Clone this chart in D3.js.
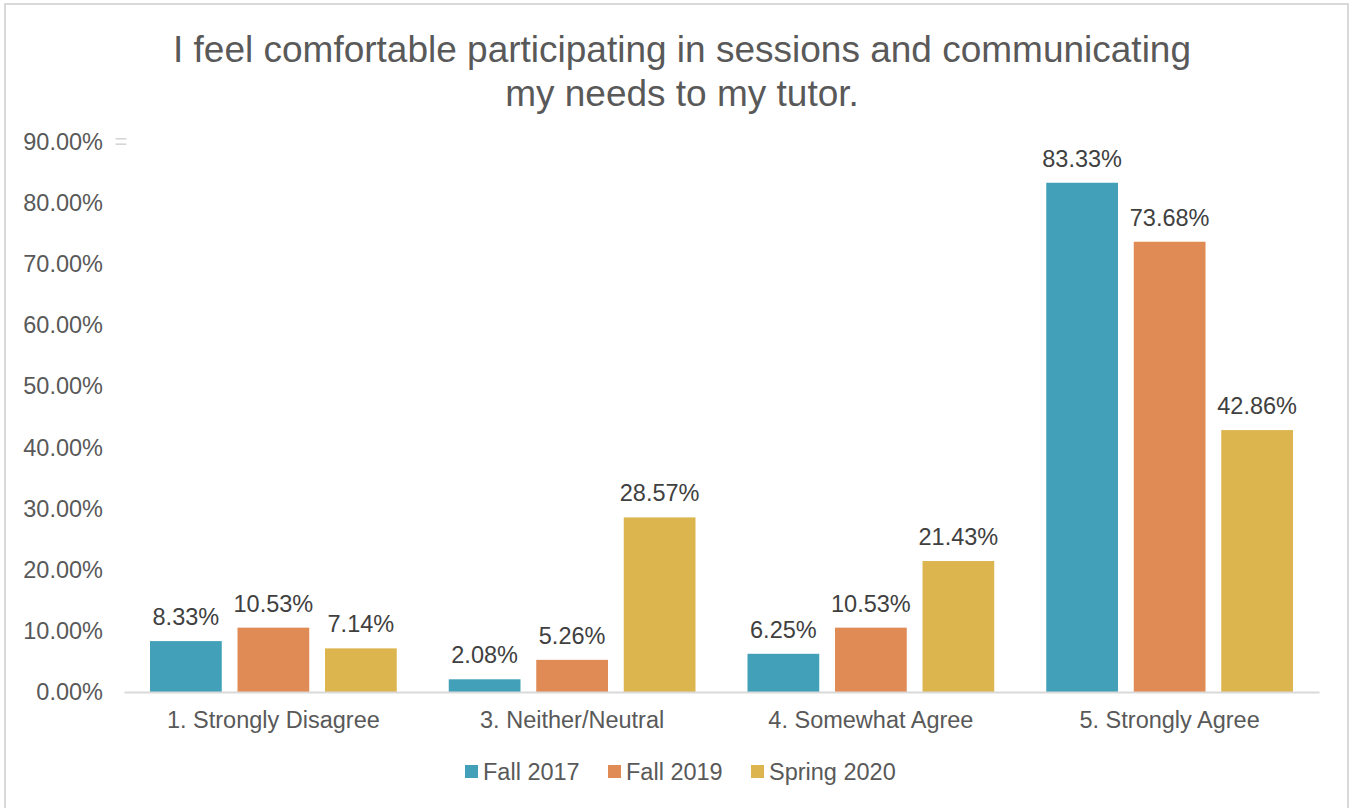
<!DOCTYPE html>
<html lang="en">
<head>
    <meta charset="utf-8">
    <title>Comfort participating</title>
    <script src="https://d3js.org/d3.v7.min.js" charset="utf-8"></script>
    <style type="text/css">
        body {
            margin: 0;
            background: #fff;
            font-family: "Liberation Sans", Arial, sans-serif;
        }
    </style>
</head>
<body>
    <script type="text/javascript">
        // data
        var categories = ["1. Strongly Disagree", "3. Neither/Neutral", "4. Somewhat Agree", "5. Strongly Agree"];
        var seriesNames = ["Fall 2017", "Fall 2019", "Spring 2020"];
        var fall2017 = [8.33, 2.08, 6.25, 83.33];
        var fall2019 = [10.53, 5.26, 10.53, 73.68];
        var spring2020 = [7.14, 28.57, 21.43, 42.86];
        var yTicks = [0, 10, 20, 30, 40, 50, 60, 70, 80, 90];
        var colors = ["#42A0B8", "#E08A55", "#DCB54E"];

        var width = 1350;
        var height = 808;
        var plotLeft = 124, plotRight = 1319, plotTop = 142, plotBottom = 692;

        var svg = d3.select("body")
                    .append("svg")
                    .attr("width", width)
                    .attr("height", height);

        // outer frame
        svg.append("rect")
            .attr("x", 5).attr("y", 4)
            .attr("width", 1343).attr("height", 812)
            .attr("fill", "none")
            .attr("stroke", "#d9d9d9")
            .attr("stroke-width", 2);

        svg.append("text")
            .attr("x", 682).attr("y", 62)
            .attr("text-anchor", "middle")
            .attr("font-size", "37px")
            .attr("fill", "#595959")
            .text("I feel comfortable participating in sessions and communicating");
        svg.append("text")
            .attr("x", 682).attr("y", 106)
            .attr("text-anchor", "middle")
            .attr("font-size", "37px")
            .attr("fill", "#595959")
            .text("my needs to my tutor.");

        var rows = categories.map(function(c, i) {
            return { cat: c, vals: [fall2017[i], fall2019[i], spring2020[i]] };
        });

        var x0 = d3.scaleBand().domain(categories).range([plotLeft, plotRight]).paddingInner(0).paddingOuter(0);
        var x1 = d3.scaleBand().domain(seriesNames).range([26, x0.bandwidth() - 26]).paddingInner(0.18);
        var y = d3.scaleLinear().domain([0, 90]).range([plotBottom, plotTop]);

        // y axis labels only
        var yAxis = svg.append("g")
            .attr("transform", "translate(" + (plotLeft - 21) + ",0)")
            .call(d3.axisLeft(y).tickValues(yTicks).tickSize(0).tickPadding(0)
                .tickFormat(function(d) { return d.toFixed(2) + "%"; }));
        yAxis.select(".domain").remove();
        yAxis.selectAll("text")
            .attr("font-family", "Liberation Sans, Arial, sans-serif")
            .attr("font-size", "23.5px")
            .attr("fill", "#595959");

        // small mark next to the top tick
        svg.append("text")
            .attr("x", 121).attr("y", 149)
            .attr("text-anchor", "middle")
            .attr("font-size", "22px")
            .attr("fill", "#d6d6d6")
            .text("=");

        var groups = svg.selectAll("g.cat")
            .data(rows)
            .enter()
            .append("g")
            .attr("class", "cat")
            .attr("transform", function(d) { return "translate(" + x0(d.cat) + ",0)"; });

        groups.selectAll("rect")
            .data(function(d) { return d.vals.map(function(v, i) { return { s: seriesNames[i], v: v, i: i }; }); })
            .enter()
            .append("rect")
            .attr("x", function(d) { return x1(d.s); })
            .attr("y", function(d) { return y(d.v); })
            .attr("width", x1.bandwidth())
            .attr("height", function(d) { return plotBottom - y(d.v); })
            .attr("fill", function(d) { return colors[d.i]; });

        groups.selectAll("text.lbl")
            .data(function(d) { return d.vals.map(function(v, i) { return { s: seriesNames[i], v: v }; }); })
            .enter()
            .append("text")
            .attr("class", "lbl")
            .attr("x", function(d) { return x1(d.s) + x1.bandwidth() / 2; })
            .attr("y", function(d) { return y(d.v) - 16; })
            .attr("text-anchor", "middle")
            .attr("font-size", "23.5px")
            .attr("fill", "#404040")
            .text(function(d) { return d.v.toFixed(2) + "%"; });

        // x axis
        var xAxis = svg.append("g")
            .attr("transform", "translate(0," + plotBottom + ")")
            .call(d3.axisBottom(x0).tickSize(0).tickPadding(19));
        xAxis.select(".domain").attr("stroke", "#d9d9d9").attr("stroke-width", 2);
        xAxis.selectAll("text")
            .attr("font-family", "Liberation Sans, Arial, sans-serif")
            .attr("font-size", "23.5px")
            .attr("fill", "#595959");

        // legend
        var legendX = [465, 608, 751];
        var legend = svg.selectAll("g.legend")
            .data(seriesNames)
            .enter()
            .append("g")
            .attr("class", "legend")
            .attr("transform", function(d, i) { return "translate(" + legendX[i] + ",765)"; });
        legend.append("rect")
            .attr("width", 13).attr("height", 13)
            .attr("fill", function(d, i) { return colors[i]; });
        legend.append("text")
            .attr("x", 18).attr("y", 15)
            .attr("font-size", "23.5px")
            .attr("fill", "#595959")
            .text(function(d) { return d; });
    </script>
</body>
</html>
